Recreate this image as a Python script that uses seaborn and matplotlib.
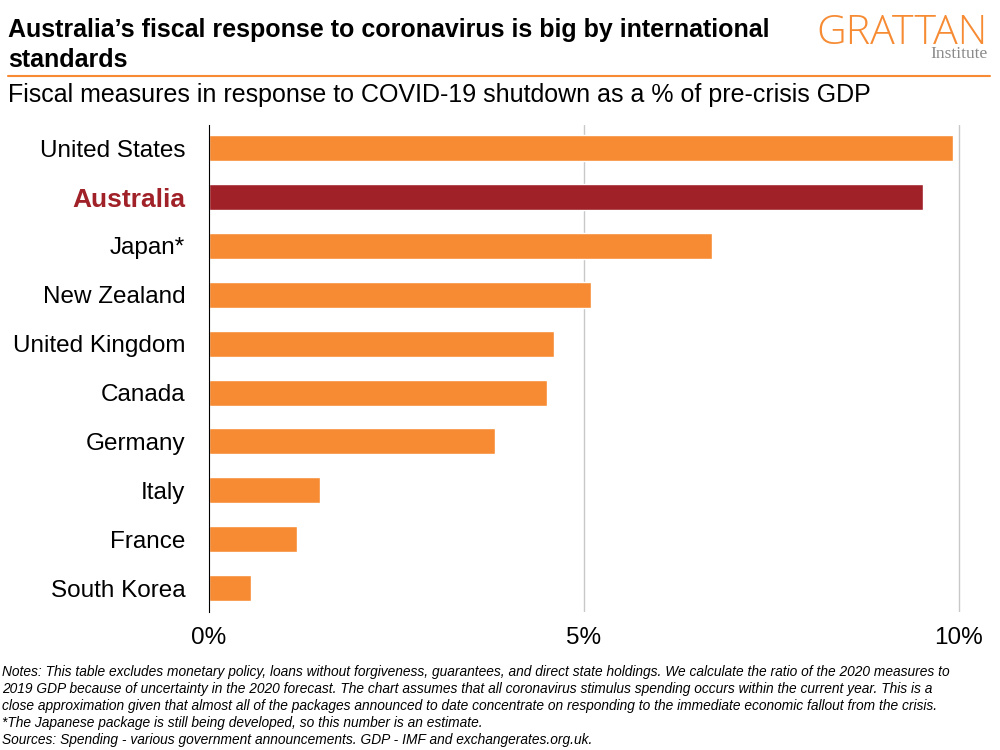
import matplotlib
matplotlib.use("Agg")
import matplotlib.pyplot as plt
import seaborn as sns
import pandas as pd

# data (% of pre-crisis GDP)
countries = ["United States", "Australia", "Japan*", "New Zealand", "United Kingdom",
             "Canada", "Germany", "Italy", "France", "South Korea"]
spending = [9.92, 9.52, 6.71, 5.09, 4.60, 4.51, 3.81, 1.48, 1.17, 0.56]
tick_vals = [0, 5, 10]
tick_labels = ["0%", "5%", "10%"]

orange = "#F68B33"
aus_red = "#A02128"

sns.set_style("white")
plt.rcParams["font.family"] = ["Liberation Sans", "DejaVu Sans"]
plt.rcParams["text.color"] = "black"
plt.rcParams["xtick.color"] = "black"
plt.rcParams["ytick.color"] = "black"

df = pd.DataFrame({"country": countries, "pct": spending})
pal = {c: (aus_red if c == "Australia" else orange) for c in countries}

fig = plt.figure(figsize=(10, 7.5), dpi=100)
ax = fig.add_axes([0.209, 0.184, 0.7575, 0.649])

sns.barplot(data=df, x="pct", y="country", hue="country", palette=pal,
            legend=False, width=0.53, saturation=1, ax=ax)

ax.set_xlim(0, 10.1)
ax.set_ylim(9.49, -0.47)
ax.set_xticks(tick_vals)
ax.set_xticklabels(tick_labels, fontsize=17.5)
ax.set_xlabel("")
ax.set_ylabel("")
ax.tick_params(axis="x", length=0, pad=11)
ax.tick_params(axis="y", length=0, pad=17, labelsize=17.5)
for x in [5, 10]:
    ax.axvline(x, color="#c8c8c8", lw=1, zorder=0)
for s in ["top", "right", "bottom"]:
    ax.spines[s].set_visible(False)
ax.spines["left"].set_color("black")
ax.spines["left"].set_linewidth(0.8)

for lab in ax.get_yticklabels():
    if lab.get_text() == "Australia":
        lab.set_color(aus_red)
        lab.set_fontweight("bold")
        lab.set_fontsize(19)

# header
fig.text(0.008, 0.951, "Australia\u2019s fiscal response to coronavirus is big by international",
         fontsize=18, fontweight="bold", va="baseline", ha="left")
fig.text(0.008, 0.911, "standards", fontsize=18, fontweight="bold", va="baseline", ha="left")
fig.add_artist(plt.Line2D([0.008, 0.99], [0.899, 0.899], color=orange, lw=1.5))
fig.text(0.008, 0.864, "Fiscal measures in response to COVID-19 shutdown as a % of pre-crisis GDP",
         fontsize=18, va="baseline", ha="left")

# logo
fig.text(0.988, 0.942, "GRATTAN", fontsize=29.5, color=orange, ha="right", va="baseline",
         fontweight="light", family=["Open Sans", "DejaVu Sans"])
fig.text(0.988, 0.9225, "Institute", fontsize=12.5, color="#8a8a8a", ha="right", va="baseline",
         family=["Liberation Serif", "DejaVu Serif"])

notes = ("Notes: This table excludes monetary policy, loans without forgiveness, guarantees, and direct state holdings. We calculate the ratio of the 2020 measures to\n"
         "2019 GDP because of uncertainty in the 2020 forecast. The chart assumes that all coronavirus stimulus spending occurs within the current year. This is a\n"
         "close approximation given that almost all of the packages announced to date concentrate on responding to the immediate economic fallout from the crisis.\n"
         "*The Japanese package is still being developed, so this number is an estimate.\n"
         "Sources: Spending - various government announcements. GDP - IMF and exchangerates.org.uk.")
fig.text(0.002, 0.113, notes, fontsize=9.9, style="italic", va="top", ha="left",
         linespacing=1.27, family=["Liberation Sans", "DejaVu Sans"])

fig.savefig("out.png", dpi=100)
